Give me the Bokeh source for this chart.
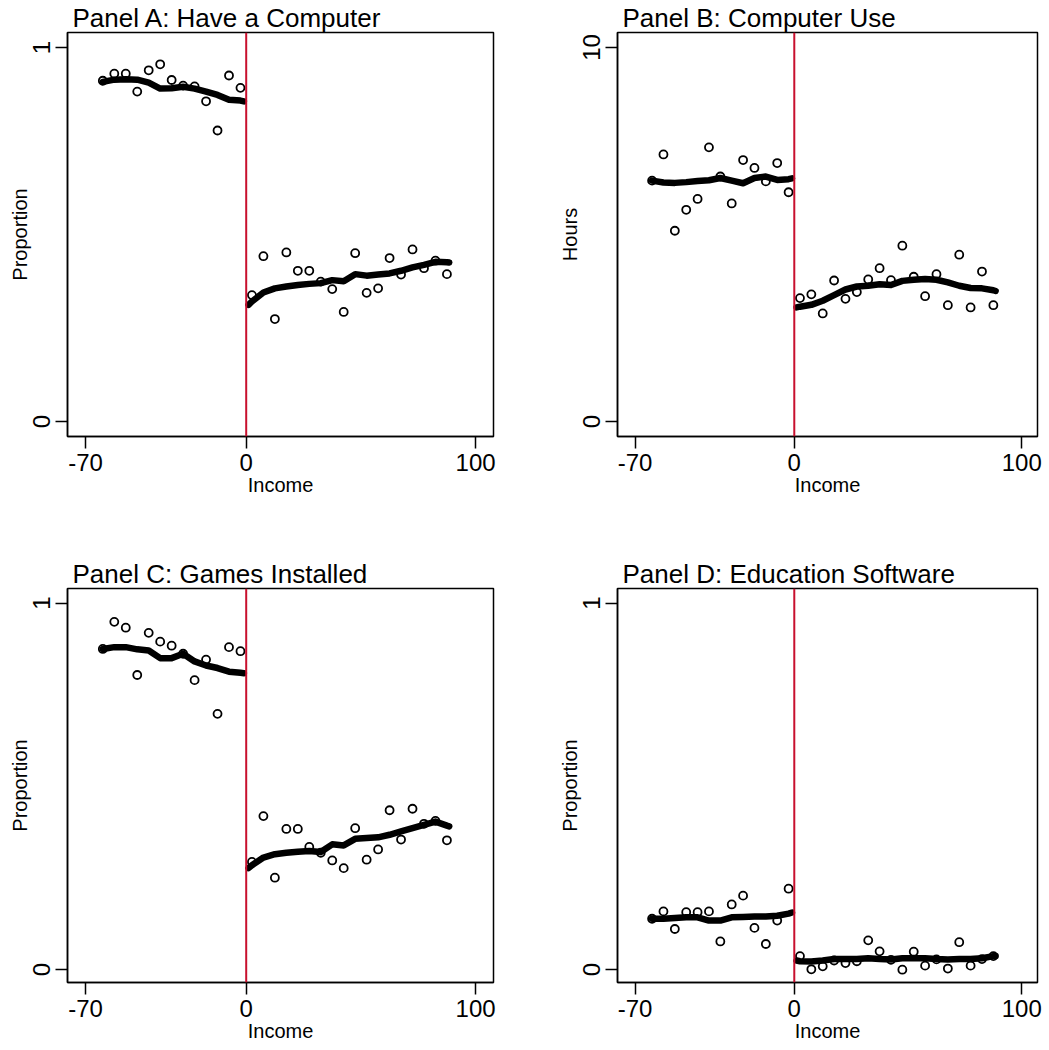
from bokeh.plotting import figure
from bokeh.models import Range1d, FixedTicker, Span
from bokeh.layouts import column, row
from bokeh.embed import file_html
from bokeh.resources import INLINE

# ---------------- data ----------------
bins_left = [-62.5, -57.5, -52.5, -47.5, -42.5, -37.5, -32.5, -27.5, -22.5, -17.5, -12.5, -7.5, -2.5]
bins_right = [2.5, 7.5, 12.5, 17.5, 22.5, 27.5, 32.5, 37.5, 42.5, 47.5, 52.5, 57.5, 62.5,
              67.5, 72.5, 77.5, 82.5, 87.5]
fit_x_left = [-62.5, -57.5, -52.5, -47.5, -42.5, -37.5, -32.5, -27.5, -22.5, -17.5, -12.5, -7.5, -2.5, -1.0]
fit_x_right = [1.0, 2.5, 7.5, 12.5, 17.5, 22.5, 27.5, 32.5, 37.5, 42.5, 47.5, 52.5, 57.5, 62.5,
               67.5, 72.5, 77.5, 82.5, 87.5, 88.5]
x_ticks = [-70, 0, 100]
x_tick_labels = {-70: "-70", 0: "0", 100: "100"}

# Panel A: Have a Computer
a_left = [0.911, 0.930, 0.930, 0.882, 0.939, 0.955, 0.913, 0.898, 0.896, 0.856, 0.778, 0.925, 0.892]
a_right = [0.338, 0.442, 0.274, 0.452, 0.403, 0.403, 0.374, 0.354, 0.293, 0.450, 0.344, 0.356,
           0.437, 0.393, 0.460, 0.410, 0.430, 0.394]
a_fit_left = [0.908, 0.914, 0.915, 0.914, 0.906, 0.890, 0.891, 0.895, 0.890, 0.882, 0.873, 0.860, 0.858, 0.856]
a_fit_right = [0.312, 0.321, 0.345, 0.356, 0.361, 0.365, 0.368, 0.370, 0.378, 0.375, 0.394, 0.390,
               0.393, 0.396, 0.403, 0.412, 0.419, 0.427, 0.426, 0.425]

# Panel B: Computer Use (hours)
b_left = [6.44, 7.14, 5.10, 5.66, 5.95, 7.33, 6.55, 5.83, 6.99, 6.78, 6.42, 6.91, 6.13]
b_right = [3.30, 3.40, 2.89, 3.77, 3.28, 3.46, 3.80, 4.10, 3.78, 4.70, 3.87, 3.35, 3.94, 3.11,
           4.46, 3.05, 4.01, 3.11]
b_fit_left = [6.44, 6.39, 6.38, 6.40, 6.43, 6.45, 6.51, 6.44, 6.37, 6.51, 6.55, 6.46, 6.48, 6.50]
b_fit_right = [3.05, 3.07, 3.12, 3.23, 3.38, 3.53, 3.61, 3.63, 3.67, 3.65, 3.76, 3.79, 3.81, 3.79,
               3.72, 3.63, 3.57, 3.56, 3.51, 3.49]

# Panel C: Games Installed
c_left = [0.875, 0.949, 0.933, 0.804, 0.919, 0.895, 0.884, 0.862, 0.790, 0.846, 0.698, 0.880, 0.869]
c_right = [0.294, 0.419, 0.251, 0.384, 0.384, 0.335, 0.319, 0.298, 0.277, 0.386, 0.300, 0.328,
           0.435, 0.355, 0.439, 0.398, 0.406, 0.353]
c_fit_left = [0.875, 0.880, 0.880, 0.874, 0.871, 0.850, 0.850, 0.862, 0.841, 0.830, 0.823, 0.813, 0.810, 0.809]
c_fit_right = [0.277, 0.285, 0.306, 0.315, 0.319, 0.322, 0.324, 0.321, 0.342, 0.339, 0.357, 0.359,
               0.361, 0.368, 0.377, 0.386, 0.395, 0.404, 0.393, 0.391]

# Panel D: Education Software
d_left = [0.139, 0.159, 0.111, 0.157, 0.157, 0.159, 0.077, 0.178, 0.202, 0.114, 0.070, 0.134, 0.221]
d_right = [0.037, 0.001, 0.009, 0.025, 0.018, 0.023, 0.080, 0.050, 0.027, 0.000, 0.049, 0.011,
           0.028, 0.003, 0.075, 0.011, 0.029, 0.037]
d_fit_left = [0.139, 0.139, 0.141, 0.143, 0.143, 0.134, 0.134, 0.143, 0.144, 0.145, 0.145, 0.147, 0.153, 0.156]
d_fit_right = [0.025, 0.023, 0.022, 0.025, 0.029, 0.029, 0.029, 0.031, 0.029, 0.028, 0.031, 0.031,
               0.031, 0.029, 0.028, 0.029, 0.029, 0.031, 0.037, 0.037]

FONT = "Liberation Sans"


def panel(title, ylabel, ymax, sl, sr, fl, fr, xr, yr, fw, fh, bl, br, bt, bb):
    p = figure(frame_width=fw, frame_height=fh,
               x_range=Range1d(*xr), y_range=Range1d(yr[0] * ymax, yr[1] * ymax),
               output_backend="svg", toolbar_location=None,
               min_border_left=bl, min_border_right=br, min_border_top=bt, min_border_bottom=bb,
               background_fill_color="white", border_fill_color="white")
    p.title.text = title
    p.title.align = "left"
    p.title.offset = 5
    p.title.standoff = 0
    p.title.text_font = FONT
    p.title.text_font_size = "26px"
    p.title.text_font_style = "normal"
    p.title.text_color = "black"

    p.xgrid.visible = False
    p.ygrid.visible = False
    p.outline_line_color = "black"
    p.outline_line_width = 1.5

    p.xaxis.ticker = FixedTicker(ticks=x_ticks)
    p.xaxis.major_label_overrides = x_tick_labels
    p.yaxis.ticker = FixedTicker(ticks=[0, ymax])
    p.xaxis.axis_label = "Income"
    p.yaxis.axis_label = ylabel
    for ax in (p.xaxis, p.yaxis):
        ax.axis_line_color = "black"
        ax.axis_line_width = 1.5
        ax.major_tick_line_color = "black"
        ax.major_tick_line_width = 1.5
        ax.major_tick_out = 12
        ax.major_tick_in = 0
        ax.minor_tick_line_color = None
        ax.major_label_text_font = FONT
        ax.major_label_text_font_size = "24px"
        ax.major_label_text_color = "black"
        ax.major_label_standoff = 5
        ax.axis_label_text_font = FONT
        ax.axis_label_text_font_size = "20px"
        ax.axis_label_text_font_style = "normal"
        ax.axis_label_text_color = "black"
        ax.axis_label_standoff = 0
    p.yaxis.major_label_orientation = "vertical"

    p.add_layout(Span(location=0, dimension="height", line_color="#c8102e", line_width=2))

    p.scatter(bins_left, sl, marker="circle", size=8, fill_color=None,
              line_color="black", line_width=1.8)
    p.scatter(bins_right, sr, marker="circle", size=8, fill_color=None,
              line_color="black", line_width=1.8)
    p.line(fit_x_left, fl, line_width=6.5, line_color="black",
           line_cap="round", line_join="round")
    p.line(fit_x_right, fr, line_width=6.5, line_color="black",
           line_cap="round", line_join="round")
    return p


XR_LEFT = (-77.9, 107.8)
XR_RIGHT = (-77.7, 106.9)
YR_TOP = (-0.04, 1.04)
YR_BOT = (-0.035, 1.04)

pa = panel("Panel A: Have a Computer", "Proportion", 1, a_left, a_right, a_fit_left, a_fit_right,
           XR_LEFT, YR_TOP, 426, 404, 67, 27, 30, 120)
pb = panel("Panel B: Computer Use", "Hours", 10, b_left, b_right, b_fit_left, b_fit_right,
           XR_RIGHT, YR_TOP, 420, 404, 97, 10, 30, 120)
pc = panel("Panel C: Games Installed", "Proportion", 1, c_left, c_right, c_fit_left, c_fit_right,
           XR_LEFT, YR_BOT, 426, 394, 67, 27, 30, 64)
pd_ = panel("Panel D: Education Software", "Proportion", 1, d_left, d_right, d_fit_left, d_fit_right,
            XR_RIGHT, YR_BOT, 420, 394, 97, 10, 30, 64)

layout = column(row(pa, pb), row(pc, pd_))
open("out.html", "w").write(file_html(layout, INLINE))
